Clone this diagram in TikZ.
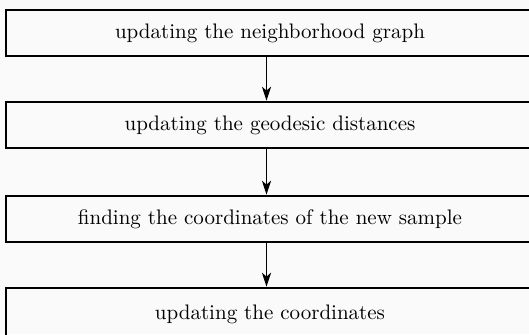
\documentclass[tikz,border=0pt]{standalone}
\usetikzlibrary{arrows.meta}
\definecolor{bgpaper}{RGB}{250,250,250}
\begin{document}
\begin{tikzpicture}[x=0.5pt,y=-0.5pt,
  stepbox/.style={draw=black,line width=1.4pt,rectangle,minimum width=280pt,minimum height=23pt,inner sep=0pt,font=\fontsize{10.5}{12.5}\selectfont,execute at begin node=\hspace*{-16pt}},
  flow/.style={draw=black,line width=0.55pt,-{Stealth[length=7pt,width=4.6pt,inset=2pt]}}]
\fill[bgpaper] (0,0) rectangle (529,334);
\useasboundingbox (0,0) rectangle (529,334);
\clip (0,0) rectangle (529,334);
\node[stepbox] (a) at (286,33) {updating the neighborhood graph};
\node[stepbox] (b) at (286,125) {updating the geodesic distances};
\node[stepbox] (c) at (286,219) {finding the coordinates of the new sample};
\node[stepbox,minimum height=26pt] (d) at (286,314) {updating the coordinates};
\coordinate (ax) at (266.5,0);
\draw[flow] (a.south -| ax) -- (b.north -| ax);
\draw[flow] (b.south -| ax) -- (c.north -| ax);
\draw[flow] (c.south -| ax) -- (d.north -| ax);
\end{tikzpicture}
\end{document}
